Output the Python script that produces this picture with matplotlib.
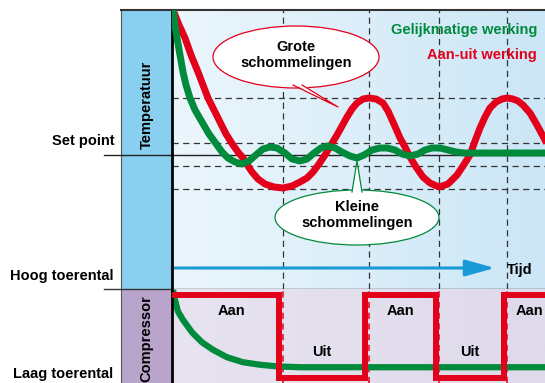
import numpy as np
import matplotlib.pyplot as plt
from matplotlib.patches import Ellipse, Polygon
from matplotlib.colors import LinearSegmentedColormap

plt.rcParams['font.family'] = ['Liberation Sans', 'DejaVu Sans']
plt.rcParams['font.weight'] = 'bold'
plt.rcParams['font.size'] = 10.5

# temperatuur t.o.v. set point (tijd, temp)
red_t = [0.1, 0.7, 1.3, 1.9, 2.6, 3.1, 3.6, 4.2, 4.8, 5.4, 6.1, 6.6, 7.1, 7.6, 8.0, 8.6, 9.3, 10.2,
         11.1, 12.0, 12.8, 13.5, 14.1, 14.7, 15.3, 15.9, 16.5, 17.0, 17.5, 18.0, 18.5, 19.1, 19.7,
         20.4, 21.1, 21.6, 22.1, 22.5, 22.8, 23.3, 23.8, 24.4, 25.1, 25.8, 26.7, 27.6, 28.5, 29.1,
         29.8, 30.3, 30.8, 31.3, 31.8, 32.4, 33.0, 33.5, 34.1, 34.6, 35.1, 35.8, 36.5, 37.3]
red_T = [14.5, 13.0, 11.7, 10.0, 8.3, 7.0, 5.7, 4.5, 3.3, 2.1, 1.0, 0.3, -0.3, -1.1, -1.7, -2.4, -2.9, -3.2,
         -3.3, -3.1, -2.7, -2.3, -1.7, -0.9, 0.0, 1.0, 2.0, 2.9, 3.8, 4.6, 5.2, 5.6, 5.7,
         5.6, 5.2, 4.4, 3.3, 2.4, 1.7, 0.8, -0.2, -1.2, -2.2, -2.8, -3.2, -2.9, -2.0, -1.1,
         0.0, 1.4, 2.7, 3.8, 4.7, 5.3, 5.6, 5.7, 5.6, 5.4, 5.0, 4.2, 3.0, 1.5]
green_t = [0.1, 0.3, 0.5, 0.8, 1.1, 1.4, 1.8, 2.3, 3.0, 3.7, 4.5, 5.0, 5.6, 6.3, 7.0, 7.7, 8.5, 9.1,
           9.8, 10.5, 11.3, 12.0, 12.8, 13.5, 14.2, 14.9, 15.6, 16.3, 17.0, 17.8, 18.5, 19.2, 20.0,
           20.8, 21.5, 22.3, 23.0, 23.8, 24.6, 25.3, 26.0, 26.8, 27.6, 28.4, 29.2, 29.8, 37.3]
green_T = [14.5, 13.0, 11.7, 10.0, 8.3, 7.0, 5.7, 4.5, 3.3, 2.1, 1.0, 0.3, -0.3, -0.7, -0.9, -0.6, 0.1, 0.6,
           0.8, 0.7, 0.2, -0.4, -0.6, -0.4, 0.2, 0.7, 0.9, 0.7, 0.3, -0.1, -0.3, 0.0, 0.5,
           0.7, 0.7, 0.5, 0.1, -0.1, 0.1, 0.5, 0.7, 0.7, 0.5, 0.3, 0.2, 0.2, 0.2]
grid_T = [5.7, 1.2, -1.1, -3.4]
grid_t = [11.1, 19.7, 26.7, 33.5]

# compressor
switch_edges = [0, 10.7, 19.3, 26.4, 33.2, 37.3]
switch_state = [1, 0, 1, 0, 1]
state_names = ['Aan', 'Uit', 'Aan', 'Uit', 'Aan']
speed_t = [0.1, 0.3, 0.6, 1.1, 2.0, 3.0, 4.1, 5.5, 7.1, 8.8, 10.5, 12.8, 37.3]
speed_v = [1.06, 0.94, 0.80, 0.70, 0.55, 0.43, 0.34, 0.25, 0.19, 0.16, 0.14, 0.13, 0.13]

RED = '#e2001a'
GREEN = '#008a3c'
BLUE = '#1a9bd7'

W, H = 545, 383
fig = plt.figure(figsize=(5.45, 3.83), dpi=100)

# linker kolommen
col_t = fig.add_axes([121/W, 94/H, 51/W, 279/H])
col_t.set_facecolor('#88cff0')
col_c = fig.add_axes([121/W, 0, 51/W, 94/H])
col_c.set_facecolor('#b9a5cb')
for a in (col_t, col_c):
    a.set_xticks([]); a.set_yticks([])
    a.spines['right'].set_visible(False)
    a.spines['bottom'].set_visible(False)
    a.spines['left'].set_linewidth(0.8)
    a.spines['left'].set_color('#555555')
col_t.spines['top'].set_linewidth(1.5)
col_t.spines['top'].set_color('#333333')
col_c.spines['top'].set_visible(False)
col_t.text(0.5, 0.66, 'Temperatuur', rotation=90, ha='center', va='center', transform=col_t.transAxes)
col_c.text(0.5, 0.47, 'Compressor', rotation=90, ha='center', va='center', transform=col_c.transAxes)

# temperatuur paneel
ax = fig.add_axes([172/W, 94/H, 373/W, 279/H])
xlim = (0, 37.3)
ylim = (-13.4, 14.5)
ax.set_xlim(*xlim); ax.set_ylim(*ylim)
cm_t = LinearSegmentedColormap.from_list('bg', ['#ecf6fc', '#cbe6f6'])
ax.imshow(np.linspace(0, 1, 256).reshape(1, -1), cmap=cm_t, extent=[*xlim, *ylim], aspect='auto', zorder=0)
ax.set_xticks([]); ax.set_yticks([])
for s in ('right', 'bottom'):
    ax.spines[s].set_visible(False)
ax.spines['top'].set_linewidth(1.5); ax.spines['top'].set_color('#333333')
ax.spines['left'].set_linewidth(2); ax.spines['left'].set_color('black')

for y in grid_T:
    ax.axhline(y, color='#333333', lw=0.9, ls=(0, (5, 3.5)), zorder=1)
for x in grid_t:
    ax.axvline(x, color='#333333', lw=0.9, ls=(0, (5, 3.5)), zorder=1)

# set point + scheiding
ax.plot([-6.8, xlim[1]], [0, 0], color='#222222', lw=1, clip_on=False, zorder=2)
ax.plot([-6.8, xlim[1]], [ylim[0], ylim[0]], color='#333333', lw=1, clip_on=False, zorder=6)

# tijd pijl
ax.annotate('', xy=(32.3, -11.3), xytext=(0, -11.3),
            arrowprops=dict(arrowstyle='-|>,head_length=0.9,head_width=0.25', color=BLUE,
                            lw=2.2, mutation_scale=20, shrinkA=0, shrinkB=0), zorder=2)
ax.text(33.5, -11.5, 'Tijd', ha='left', va='center')

# ballonnen
ax.add_patch(Ellipse((12.4, 9.8), 16.6, 6.2, facecolor='white', edgecolor=RED, lw=0.9, zorder=3))
ax.add_patch(Polygon([(12.1, 7.1), (13.0, 7.1), (16.6, 4.8)], closed=True, facecolor='white',
                     edgecolor='none', zorder=3.5))
ax.plot([12.1, 16.6, 13.0], [7.0, 4.8, 7.0], color=RED, lw=0.9, zorder=3.6)
ax.text(12.4, 10.0, 'Grote\nschommelingen', ha='center', va='center', linespacing=1.25, zorder=4)

ax.add_patch(Ellipse((18.5, -6.25), 16.4, 5.5, facecolor='white', edgecolor=GREEN, lw=0.9, zorder=3))
ax.add_patch(Polygon([(18.0, -3.8), (19.0, -3.8), (18.5, -0.6)], closed=True, facecolor='white',
                     edgecolor='none', zorder=3.5))
ax.plot([18.0, 18.5, 19.0], [-3.7, -0.6, -3.7], color=GREEN, lw=0.9, zorder=3.6)
ax.text(18.5, -6.0, 'Kleine\nschommelingen', ha='center', va='center', linespacing=1.25, zorder=4)

# curves
ax.plot(red_t, red_T, color=RED, lw=5, solid_joinstyle='round', zorder=5)
ax.plot(green_t, green_T, color=GREEN, lw=5, solid_joinstyle='round', zorder=5.5)

ax.text(36.5, 12.5, 'Gelijkmatige werking', color=GREEN, ha='right', va='center')
ax.text(36.5, 10.0, 'Aan-uit werking', color=RED, ha='right', va='center')

# compressor paneel
axc = fig.add_axes([172/W, 0, 373/W, 94/H])
cylim = (-0.060, 1.072)
axc.set_xlim(*xlim); axc.set_ylim(*cylim)
cm_c = LinearSegmentedColormap.from_list('bgc', ['#e7e3f0', '#dedaea'])
axc.imshow(np.linspace(0, 1, 256).reshape(1, -1), cmap=cm_c, extent=[*xlim, *cylim], aspect='auto', zorder=0)
axc.set_xticks([]); axc.set_yticks([])
for s in ('right', 'bottom', 'top'):
    axc.spines[s].set_visible(False)
axc.spines['left'].set_linewidth(2); axc.spines['left'].set_color('black')
for x in grid_t:
    axc.axvline(x, color=RED, lw=1.1, ls=(0, (4, 3)), zorder=1)
axc.stairs(switch_state, switch_edges, baseline=None, color=RED, lw=4.3, zorder=3)
axc.plot(speed_t, speed_v, color=GREEN, lw=4.5, solid_capstyle='butt', zorder=2)
for i, name in enumerate(state_names):
    mid = (switch_edges[i] + switch_edges[i + 1]) / 2
    yv = 0.81 if switch_state[i] else 0.31
    if i == 0:
        mid += 0.6
    if i == len(state_names) - 1:
        mid += 0.5
    axc.text(mid, yv, name, ha='center', va='center', zorder=4)

# linker labels
fig.text(115/W, 1 - 141/H, 'Set point', ha='right', va='center')
fig.text(113/W, 1 - 276/H, 'Hoog toerental', ha='right', va='center')
fig.text(113/W, 1 - 374/H, 'Laag toerental', ha='right', va='center')

fig.savefig('out.png', dpi=100)
